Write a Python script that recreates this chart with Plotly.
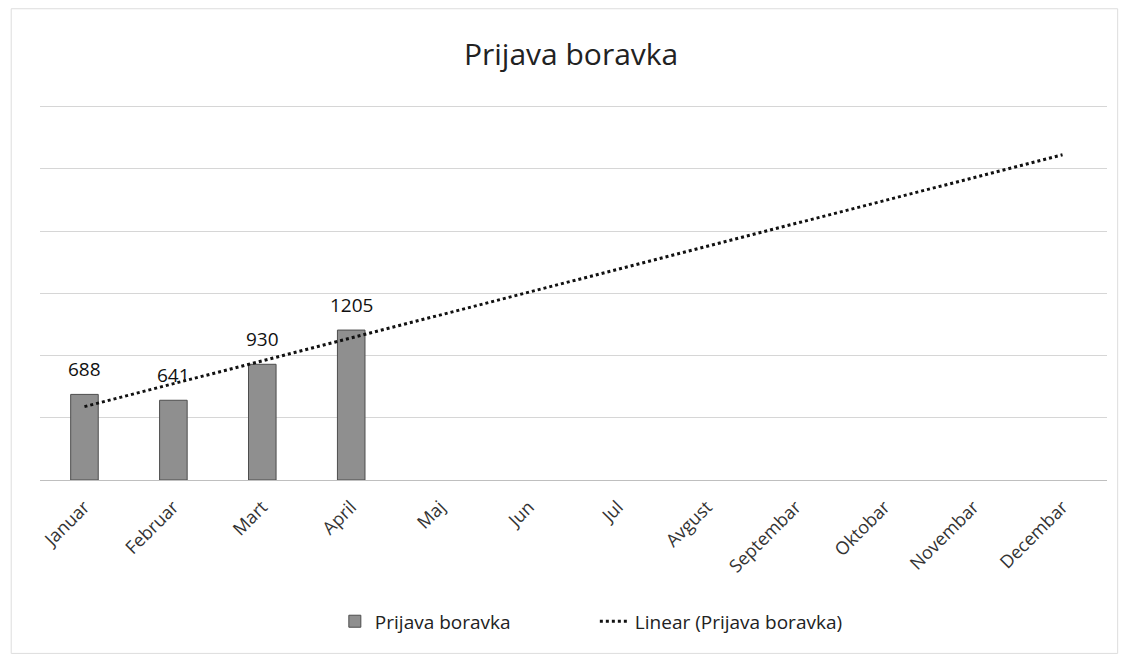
import numpy as np
import plotly.graph_objects as go

months = ["Januar", "Februar", "Mart", "April", "Maj", "Jun", "Jul", "Avgust",
          "Septembar", "Oktobar", "Novembar", "Decembar"]
bar_months = ["Januar", "Februar", "Mart", "April"]
values = [688, 641, 930, 1205]
y_ticks = [0, 500, 1000, 1500, 2000, 2500, 3000]

# Linear trendline (least squares fit over the measured months), extended to December
xi = np.arange(1, len(values) + 1)
slope, intercept = np.polyfit(xi, values, 1)
x_all = np.arange(1, len(months) + 1)
trend = slope * x_all + intercept

fig = go.Figure()
fig.add_trace(go.Bar(
    x=bar_months, y=values, name="Prijava boravka",
    marker=dict(color="#8f8f8f", line=dict(color="#4d4d4d", width=1)),
))
fig.add_trace(go.Scatter(
    x=months, y=trend, mode="lines", name="Linear (Prijava boravka)",
    line=dict(color="#111111", width=3, dash="dot"),
))

for m, v in zip(bar_months, values):
    fig.add_annotation(x=m, y=v, text=str(v), showarrow=False, yanchor="bottom",
                       yshift=10, font=dict(size=19, color="#111111"))

fig.update_layout(
    width=1122, height=655,
    paper_bgcolor="white", plot_bgcolor="white",
    margin=dict(l=40, r=15, t=103, b=175),
    font=dict(family="Open Sans, Noto Sans, sans-serif", color="#222222"),
    title=dict(text="Prijava boravka", x=0.509, xanchor="center", y=0.917, yanchor="middle",
               font=dict(size=30, color="#222222")),
    bargap=0.69,
    showlegend=True,
    legend=dict(orientation="h", x=0.52, xanchor="center", y=-0.375, yanchor="middle",
                entrywidth=215, entrywidthmode="pixels",
                font=dict(size=19, color="#222222")),
)
fig.update_xaxes(categoryorder="array", categoryarray=months, range=[-0.5, 11.5],
                 tickangle=-45, tickfont=dict(size=18, color="#333333"), showgrid=False,
                 showline=False, ticks="", ticklabelstandoff=12, automargin=False)
fig.update_yaxes(range=[0, 3030], tickvals=y_ticks, showticklabels=False,
                 showgrid=True, gridcolor="#d6d6d6", gridwidth=1,
                 zeroline=True, zerolinecolor="#bfbfbf", zerolinewidth=1, automargin=False)

# light chart border as in the scanned picture
fig.add_shape(type="rect", xref="paper", yref="paper",
              x0=-0.027, x1=1.01, y0=-0.46, y1=1.25,
              line=dict(color="#dddddd", width=1))

fig.write_html("out.html", config={"displayModeBar": False},
               post_script="document.body.style.margin='0';document.body.style.padding='0';")
